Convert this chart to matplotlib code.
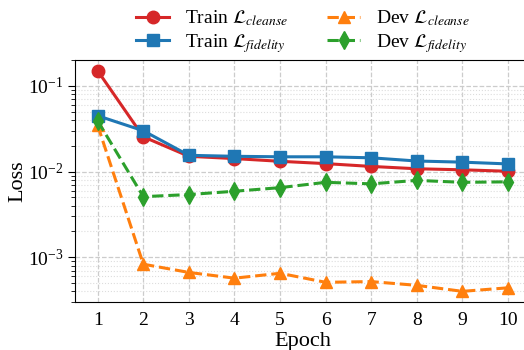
import numpy as np
import matplotlib
matplotlib.use("Agg")
import matplotlib.pyplot as plt

plt.rcParams['font.family'] = ['Liberation Serif', 'DejaVu Serif']
plt.rcParams['mathtext.fontset'] = 'stix'

epochs = [1, 2, 3, 4, 5, 6, 7, 8, 9, 10]
train_cleanse = [0.150, 0.0255, 0.0151, 0.0142, 0.0132, 0.0124, 0.0115, 0.0108, 0.0105, 0.0101]
train_fidelity = [0.0449, 0.0300, 0.0155, 0.0151, 0.0149, 0.0149, 0.0145, 0.0133, 0.0129, 0.0123]
dev_cleanse = [0.0346, 0.00083, 0.000665, 0.00057, 0.00065, 0.00051, 0.00052, 0.00047, 0.00040, 0.00044]
dev_fidelity = [0.039, 0.0051, 0.0054, 0.0059, 0.0065, 0.0075, 0.0072, 0.0079, 0.0075, 0.0076]

fig = plt.figure(figsize=(5.24, 3.5), dpi=100)
ax = fig.add_axes((0.143, 0.137, 0.870, 0.691))

ax.plot(epochs, train_cleanse, color='#d62728', marker='o', ms=9, lw=2.2,
        label=r'Train $\mathcal{L}_{cleanse}$')
ax.plot(epochs, train_fidelity, color='#1f77b4', marker='s', ms=9, lw=2.2,
        label=r'Train $\mathcal{L}_{fidelity}$')
ax.plot(epochs, dev_cleanse, color='#ff7f0e', marker='^', ms=9, lw=2.2, ls='--',
        label=r'Dev $\mathcal{L}_{cleanse}$')
ax.plot(epochs, dev_fidelity, color='#2ca02c', marker='d', ms=9, lw=2.2, ls='--',
        label=r'Dev $\mathcal{L}_{fidelity}$')

ax.set_yscale('log')
ax.set_ylim(3e-4, 0.2)
ax.set_xlim(0.5, 10.5)
ax.set_xticks(epochs)

ax.grid(True, which='major', ls='--', color='#cccccc', lw=0.9)
ax.grid(True, which='minor', axis='y', ls=':', color='#dddddd', lw=0.8)
ax.set_axisbelow(True)

ax.tick_params(axis='x', length=0, labelsize=14, pad=7)
ax.tick_params(axis='y', which='major', length=5, labelsize=14, direction='out')
ax.tick_params(axis='y', which='minor', length=3, direction='out')

ax.set_xlabel('Epoch', fontsize=16, labelpad=2)
ax.set_ylabel('Loss', fontsize=16, labelpad=0)

ax.legend(loc='lower center', bbox_to_anchor=(0.5, 0.99), ncol=2, frameon=False,
          fontsize=14, handlelength=1.7, columnspacing=2.0, borderaxespad=0.0,
          labelspacing=0.2, handletextpad=0.8)

fig.savefig('out.png', dpi=100)
